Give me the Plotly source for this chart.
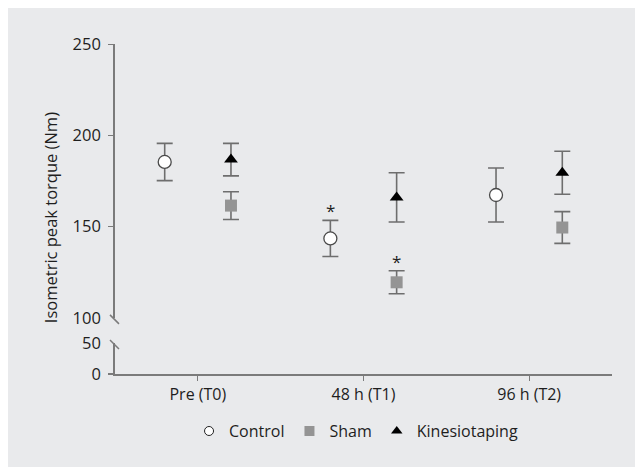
import plotly.graph_objects as go

categories = ["Pre (T0)", "48 h (T1)", "96 h (T2)"]
control_mean = [185.4, 143.5, 167.3]
control_sd = [10.2, 9.9, 14.8]
sham_mean = [161.5, 119.5, 149.5]
sham_sd = [7.6, 6.3, 8.7]
kines_mean = [186.7, 166.0, 179.5]
kines_sd = [8.9, 13.5, 11.8]
upper_ticks = [100, 150, 200, 250]
lower_ticks = [0, 50]
significant_control = [False, True, False]
significant_sham = [False, True, False]

BG = "#e9eaec"
AX = "#7b7b7b"
EB = "#6e6e6e"
FONT = "Open Sans, Noto Sans, sans-serif"
TXT = "#1e1e1e"

UPPER_DOMAIN = [0.17, 1]
LOWER_DOMAIN = [0, 0.094]

idx = list(range(len(categories)))
off = 0.2
x_ctrl = [i - off for i in idx]
x_right = [i + off for i in idx]

fig = go.Figure()

def err(sd):
    return dict(type="data", array=sd, visible=True, color=EB, thickness=1.6, width=8)

fig.add_trace(go.Scatter(x=x_ctrl, y=control_mean, mode="markers", name="Control",
                         error_y=err(control_sd), showlegend=False,
                         marker=dict(symbol="circle", size=13, color="white",
                                     line=dict(color="#4a4a4a", width=1.3))))
fig.add_trace(go.Scatter(x=x_right, y=sham_mean, mode="markers", name="Sham",
                         error_y=err(sham_sd), showlegend=False,
                         marker=dict(symbol="square", size=12, color="#949494",
                                     line=dict(color="#949494", width=0))))
fig.add_trace(go.Scatter(x=x_right, y=kines_mean, mode="markers", name="Kinesiotaping",
                         error_y=err(kines_sd), showlegend=False,
                         marker=dict(symbol="triangle-up", size=12, color="black",
                                     line=dict(width=0))))

# empty helper traces so that the extra axes are drawn
for ya in ["y2", "y3", "y4"]:
    fig.add_trace(go.Scatter(x=[None], y=[None], yaxis=ya, mode="markers",
                             showlegend=False, hoverinfo="skip"))

# legend-only entries
fig.add_trace(go.Scatter(x=[None], y=[None], mode="markers", name="Control",
                         marker=dict(symbol="circle", size=9, color="white",
                                     line=dict(color="#222", width=1))))
fig.add_trace(go.Scatter(x=[None], y=[None], mode="markers", name="Sham",
                         marker=dict(symbol="square", size=10, color="#949494", line=dict(width=0))))
fig.add_trace(go.Scatter(x=[None], y=[None], mode="markers", name="Kinesiotaping",
                         marker=dict(symbol="triangle-up", size=10, color="black", line=dict(width=0))))

annotations = []
for i in idx:
    if significant_control[i]:
        annotations.append(dict(x=x_ctrl[i], y=control_mean[i] + control_sd[i], xref="x", yref="y",
                                text="*", showarrow=False, yanchor="bottom", yshift=-4,
                                font=dict(size=17, color=TXT, family=FONT)))
    if significant_sham[i]:
        annotations.append(dict(x=x_right[i], y=sham_mean[i] + sham_sd[i], xref="x", yref="y",
                                text="*", showarrow=False, yanchor="bottom", yshift=-4,
                                font=dict(size=17, color=TXT, family=FONT)))

annotations.append(dict(x=-0.131, y=0.475, xref="paper", yref="paper", text="Isometric peak torque (Nm)",
                        textangle=-90, showarrow=False, xanchor="center", yanchor="middle",
                        font=dict(size=16.5, color=TXT, family=FONT)))

# axis-break slashes
shapes = []
for ya in [UPPER_DOMAIN[0], LOWER_DOMAIN[1]]:
    shapes.append(dict(type="line", xref="paper", xsizemode="pixel", xanchor=0, x0=-5, x1=4,
                       yref="paper", ysizemode="pixel", yanchor=ya, y0=3, y1=-6,
                       line=dict(color=AX, width=1.5)))

fig.update_layout(
    width=635, height=459,
    paper_bgcolor=BG, plot_bgcolor=BG,
    margin=dict(l=107, r=31, t=36, b=93),
    font=dict(family=FONT, size=16, color=TXT),
    showlegend=True,
    legend=dict(orientation="h", x=0.485, y=-0.173, xanchor="center", yanchor="middle",
                font=dict(size=16, color=TXT), bgcolor="rgba(0,0,0,0)", itemwidth=30,
                tracegroupgap=0),
    annotations=annotations,
    shapes=shapes,
    xaxis=dict(range=[-0.5, 2.5], tickvals=idx, ticktext=categories, anchor="y2",
               showline=True, linecolor=AX, linewidth=1.6, ticks="outside", ticklen=5,
               tickcolor=AX, tickwidth=1.4, showgrid=False, zeroline=False,
               tickfont=dict(size=16, color=TXT)),
    yaxis=dict(domain=UPPER_DOMAIN, range=[100, 250], tickvals=upper_ticks,
               showline=True, linecolor=AX, linewidth=1.6, ticks="outside", ticklen=9,
               tickcolor="rgba(0,0,0,0)", showgrid=False, zeroline=False,
               tickfont=dict(size=16.5, color=TXT)),
    yaxis3=dict(overlaying="y", range=[100, 250], tickvals=upper_ticks[1:],
                showline=False, ticks="outside", ticklen=6, tickcolor=AX, tickwidth=1.4,
                showticklabels=False, showgrid=False, zeroline=False),
    yaxis2=dict(domain=LOWER_DOMAIN, range=[0, 50], tickvals=lower_ticks,
                showline=True, linecolor=AX, linewidth=1.6, ticks="outside", ticklen=9,
                tickcolor="rgba(0,0,0,0)", showgrid=False, zeroline=False,
                tickfont=dict(size=16.5, color=TXT)),
    yaxis4=dict(overlaying="y2", range=[0, 50], tickvals=lower_ticks[:1],
                showline=False, ticks="outside", ticklen=6, tickcolor=AX, tickwidth=1.6,
                showticklabels=False, showgrid=False, zeroline=False),
)

fig.write_html("out.html")
